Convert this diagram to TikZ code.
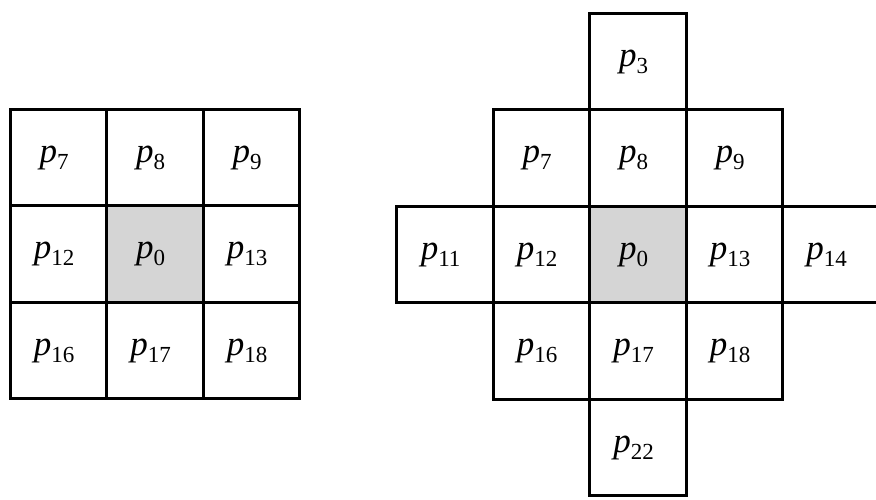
\documentclass[tikz,border=0pt]{standalone}
\usepackage{fontspec}
\setmainfont{Liberation Serif}
\usetikzlibrary{matrix,positioning}

% pixel label: italic p with a lowered index
\newcommand{\px}[1]{\textit{p}\raisebox{-0.45ex}{\fontsize{23}{23}\selectfont #1}}

\begin{document}
\begin{tikzpicture}[
  x=1pt, y=1pt,
  font=\fontsize{35}{40}\selectfont,
  cell/.style={draw, line width=2.6pt, minimum width=96.5pt, minimum height=96.5pt,
    inner sep=0pt, outer sep=0pt, align=center},
  ctr/.style={cell, fill=gray!33}
]
\useasboundingbox (0,0) rectangle (876,500);

% 3x3 neighbourhood
\matrix (L) at (155,246) [matrix of nodes,
  row sep=-2.6pt, column sep=-2.6pt,
  nodes={cell}
]{
  \px{7}  & \px{8}  & \px{9}  \\
  \px{12} & |[ctr]|\px{0} & \px{13} \\
  \px{16} & \px{17} & \px{18} \\
};

% diamond shaped neighbourhood (empty cells give no node)
\matrix (R) at (638,245.5) [matrix of nodes,
  row sep=-2.6pt, column sep=-2.6pt,
  nodes={cell}
]{
          &         & \px{3}  &         &         \\
          & \px{7}  & \px{8}  & \px{9}  &         \\
  \px{11} & \px{12} & |[ctr]|\px{0} & \px{13} & \px{14} \\
          & \px{16} & \px{17} & \px{18} &         \\
          &         & \px{22} &         &         \\
};

\end{tikzpicture}
\end{document}
